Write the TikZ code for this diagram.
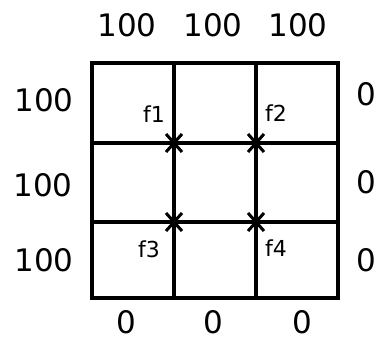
\documentclass[tikz,border=0pt]{standalone}
\usepackage{fontspec}
\setmainfont{DejaVu Sans}
\begin{document}
\begin{tikzpicture}[x=1pt,y=-1pt,
  lbl/.style={font=\fontsize{31}{33}\selectfont, inner sep=0pt, anchor=center},
  flbl/.style={font=\fontsize{22}{24}\selectfont, inner sep=0pt, anchor=center},
  gridline/.style={line width=3.6pt, line cap=rect},
  xmark/.style={line width=3pt}]
\useasboundingbox (0,0) rectangle (379,342);
% grid coordinates
\coordinate (tl) at (92,63);
\coordinate (br) at (338,298);
\coordinate (v1t) at (174,63); \coordinate (v1b) at (174,298);
\coordinate (v2t) at (256,63); \coordinate (v2b) at (256,298);
\coordinate (h1l) at (92,143); \coordinate (h1r) at (338,143);
\coordinate (h2l) at (92,222); \coordinate (h2r) at (338,222);
\draw[gridline] (tl) rectangle (br);
\draw[gridline] (h1l) -- (h1r);
\draw[gridline] (h2l) -- (h2r);
\draw[gridline, line width=4.2pt] (v1t) -- (v1b);
\draw[gridline] (v2t) -- (v2b);
% crossings
\foreach \n/\x/\y in {c1/174/143, c2/256/143, c3/174/222, c4/256/222}{
  \coordinate (\n) at (\x,\y);
  \draw[xmark] ([shift={(-8,-9)}]\n) -- ([shift={(8,9)}]\n);
  \draw[xmark] ([shift={(8,-9)}]\n) -- ([shift={(-8,9)}]\n);
}
% top labels
\node[lbl] (t1) at (127,25) {100};
\node[lbl] (t2) at (213,25) {100};
\node[lbl] (t3) at (298,25) {100};
% left labels
\node[lbl] (l1) at (44,100) {100};
\node[lbl] (l2) at (43,185) {100};
\node[lbl] (l3) at (44,260) {100};
% right labels
\node[lbl] (r1) at (366,94) {0};
\node[lbl] (r2) at (366,182) {0};
\node[lbl] (r3) at (366,260) {0};
% bottom labels
\node[lbl] (b1) at (126,322) {0};
\node[lbl] (b2) at (213,322) {0};
\node[lbl] (b3) at (302,322) {0};
% f labels
\node[flbl] (f1) at (154,114) {f1};
\node[flbl] (f2) at (276,113) {f2};
\node[flbl] (f3) at (149,249) {f3};
\node[flbl] (f4) at (276,248) {f4};
\end{tikzpicture}
\end{document}
